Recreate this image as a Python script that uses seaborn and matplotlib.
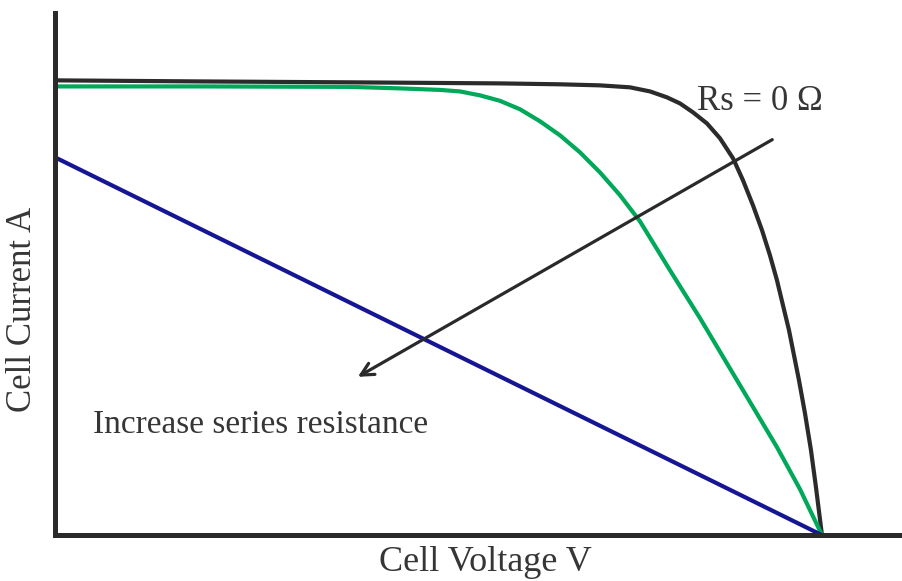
import numpy as np
import pandas as pd
import matplotlib
matplotlib.use("Agg")
import matplotlib.pyplot as plt
import seaborn as sns

# I-V curves (voltage in V, current in A)
v_rs0 = [0.0, 0.1134, 0.2308, 0.3481, 0.3951, 0.4263, 0.4498, 0.4655, 0.4787, 0.4889, 0.4991, 0.5100,
         0.5202, 0.5304, 0.5382, 0.5460, 0.5531, 0.5593, 0.5648, 0.5695, 0.5742, 0.5781, 0.5820, 0.5867,
         0.5914, 0.5953, 0.600]
i_rs0 = [3.000, 2.993, 2.987, 2.980, 2.974, 2.967, 2.954, 2.927, 2.888, 2.848, 2.789, 2.716,
         2.618, 2.486, 2.341, 2.176, 2.011, 1.846, 1.681, 1.516, 1.352, 1.187, 1.022, 0.804,
         0.560, 0.316, 0.0]

v_mid = [0.0, 0.1134, 0.2308, 0.2699, 0.3012, 0.3168, 0.3325, 0.3481, 0.3638, 0.3794, 0.3951, 0.4107,
         0.4263, 0.4420, 0.4576, 0.4811, 0.5046, 0.5335, 0.5648, 0.5828, 0.600]
i_mid = [2.960, 2.960, 2.957, 2.947, 2.937, 2.927, 2.901, 2.865, 2.809, 2.730, 2.637, 2.525,
         2.393, 2.242, 2.070, 1.747, 1.431, 1.022, 0.580, 0.303, 0.0]

v_high = [0.0, 0.600]
i_high = [2.492, 0.0]

series_names = ["Rs = 0", "Rs medium", "Rs high"]
series_colors = ["#2b2b2b", "#00a859", "#161694"]

sns.set_theme(style="white")
plt.rcParams['font.family'] = ['Liberation Serif', 'DejaVu Serif']

frames = []
for name, v, i in zip(series_names, [v_rs0, v_mid, v_high], [i_rs0, i_mid, i_high]):
    frames.append(pd.DataFrame({"voltage": v, "current": i, "series": name}))
df = pd.concat(frames, ignore_index=True)

fig = plt.figure(figsize=(9.03, 5.81), dpi=100)
ax = fig.add_axes([0.061, 0.079, 0.939, 0.898])

sns.lineplot(data=df, x="voltage", y="current", hue="series", palette=dict(zip(series_names, series_colors)),
             sort=False, estimator=None, linewidth=3.0, legend=False, ax=ax)
for line in ax.lines:
    line.set_solid_capstyle("round")
    line.set_solid_joinstyle("round")

ax.set_xlim(0, 0.6634)
ax.set_ylim(0, 3.442)
ax.set_xticks([])
ax.set_yticks([])
for s in ["top", "right"]:
    ax.spines[s].set_visible(False)
for s in ["left", "bottom"]:
    ax.spines[s].set_color("#2a2a2a")
    ax.spines[s].set_linewidth(3.6)

ax.set_xlabel("Cell Voltage V", fontsize=26, color="#363636", va="center")
ax.xaxis.set_label_coords(0.508, -0.052)
ax.set_ylabel("Cell Current A", fontsize=25, color="#363636", va="center")
ax.yaxis.set_label_coords(-0.039, 0.433)

ax.annotate("", xy=(0.235, 1.035), xytext=(0.563, 2.618),
            arrowprops=dict(arrowstyle="->,head_length=0.75,head_width=0.38", lw=2.3, color="#2a2a2a"))
ax.text(0.502, 2.861, "Rs = 0 \u03a9", fontsize=25, color="#363636", ha="left", va="center")
ax.text(0.0297, 0.725, "Increase series resistance", fontsize=24, color="#363636", ha="left", va="center")

fig.savefig("out.png", dpi=100)
